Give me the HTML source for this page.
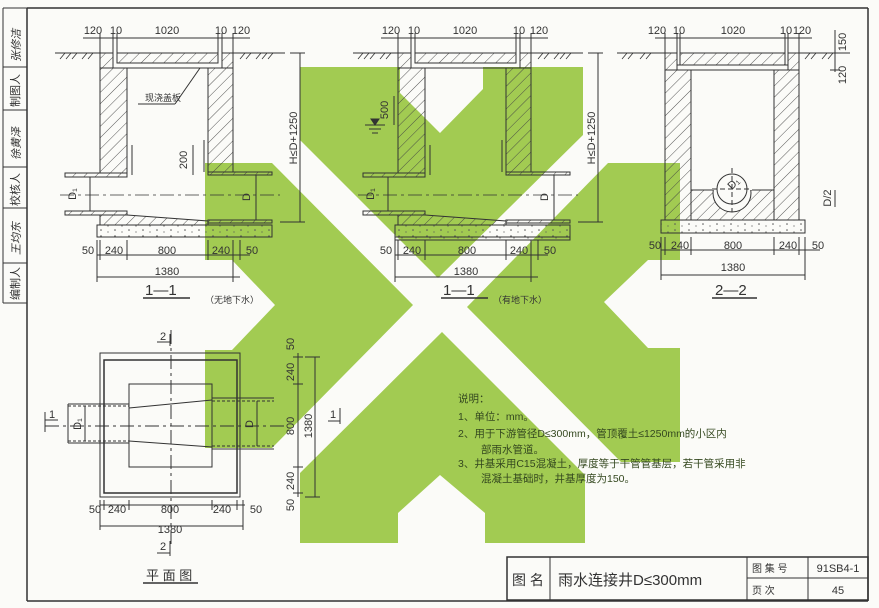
<!DOCTYPE html>
<html><head><meta charset="utf-8"><style>
html,body{margin:0;padding:0;background:#fbfbf8}
svg{display:block}
text{font-family:"Liberation Sans","Noto Sans CJK SC",sans-serif;fill:#333}
.d{font-size:11px;text-anchor:middle}
.cn{font-family:"Liberation Sans","Noto Sans CJK SC",sans-serif}
</style></head><body>
<svg width="879" height="608" viewBox="0 0 879 608" xmlns="http://www.w3.org/2000/svg">
<defs>
<pattern id="h" width="8" height="8" patternUnits="userSpaceOnUse" patternTransform="rotate(45)">
<line x1="0" y1="0" x2="0" y2="8" stroke="#444" stroke-width="0.9"/></pattern>
<pattern id="dots" width="14" height="6" patternUnits="userSpaceOnUse">
<circle cx="3" cy="2" r="0.8" fill="#555"/><circle cx="10" cy="4" r="0.6" fill="#555"/></pattern>
</defs>
<rect width="879" height="608" fill="#fbfbf8"/>
<!-- green watermark -->
<g fill="#a2cb52">
<polygon points="300,67 400,67 400,93 440,133 483,89 483,67 583,67 583,135 438,278 300,140"/>
<polygon points="205,163 272,163 413,305 272,448 205,448 205,350 232,350 275,305 232,260 205,260"/>
<polygon points="608,163 680,163 680,260 648,260 604,302 648,348 680,348 680,462 621,462 467,307"/>
<polygon points="442,332 585,475 585,543 485,543 485,513 440,475 398,513 398,543 300,543 300,473"/>
</g>
<g stroke="#333" fill="none" stroke-width="1">
<!-- frame -->
<line x1="27" y1="8" x2="868" y2="8" stroke-width="1.5"/>
<line x1="27" y1="8" x2="27" y2="601" stroke-width="1.5"/>
<line x1="868" y1="8" x2="868" y2="601" stroke-width="1.5"/>
<line x1="27" y1="601" x2="868" y2="601" stroke-width="1.5"/>
<line x1="3" y1="8" x2="3" y2="303"/>
<line x1="3" y1="8" x2="27" y2="8"/><line x1="3" y1="67" x2="27" y2="67"/><line x1="3" y1="110" x2="27" y2="110"/>
<line x1="3" y1="167" x2="27" y2="167"/><line x1="3" y1="208" x2="27" y2="208"/><line x1="3" y1="263" x2="27" y2="263"/><line x1="3" y1="303" x2="27" y2="303"/>
<!-- title block -->
<rect x="507" y="557" width="361" height="43" stroke-width="1.5"/>
<line x1="550" y1="557" x2="550" y2="600"/><line x1="747" y1="557" x2="747" y2="600"/>
<line x1="808" y1="557" x2="808" y2="600"/><line x1="747" y1="578" x2="868" y2="578"/>
</g>
<!-- left strip labels -->
<g font-size="11" class="cn">
<text transform="translate(19,107) rotate(-90)">制图人</text>
<text transform="translate(19,206) rotate(-90)">校核人</text>
<text transform="translate(19,300) rotate(-90)">编制人</text>
<text transform="translate(20,62) rotate(-90)" font-style="italic" fill="#555">张修洁</text>
<text transform="translate(20,160) rotate(-90)" font-style="italic" fill="#555">徐黄泽</text>
<text transform="translate(20,255) rotate(-90)" font-style="italic" fill="#555">王均东</text>
</g>

<!-- SECTION 1-1 template -->
<g id="s11" stroke="#333" fill="none" stroke-width="1">
<line x1="83" y1="38" x2="250" y2="38"/>
<line x1="100" y1="33" x2="100" y2="53"/><line x1="113" y1="33" x2="113" y2="53"/><line x1="117" y1="33" x2="117" y2="53"/>
<line x1="218" y1="33" x2="218" y2="53"/><line x1="222" y1="33" x2="222" y2="53"/><line x1="233" y1="33" x2="233" y2="53"/>
<line x1="55" y1="53" x2="100" y2="53"/><line x1="233" y1="53" x2="285" y2="53"/>
<path d="M60,59 l5,-6 M66,59 l5,-6 M72,59 l5,-6 M82,59 l5,-6 M88,59 l5,-6 M240,59 l5,-6 M246,59 l5,-6 M256,59 l5,-6 M262,59 l5,-6 M268,59 l5,-6" stroke-width="0.8"/>
<rect x="100" y="53" width="13" height="15" fill="url(#h)"/>
<rect x="117" y="53" width="101" height="10" fill="url(#h)"/>
<rect x="222" y="53" width="11" height="15" fill="url(#h)"/>
<line x1="113" y1="68" x2="222" y2="68"/>
<rect x="100" y="68" width="27" height="105" fill="url(#h)"/>
<rect x="208" y="68" width="25" height="104" fill="url(#h)"/>
<rect x="65" y="173" width="62" height="4" fill="url(#h)"/>
<rect x="65" y="211" width="62" height="4" fill="url(#h)"/>
<rect x="208" y="172" width="64" height="3" fill="url(#h)"/>
<rect x="208" y="220" width="64" height="3" fill="url(#h)"/>
<polygon points="100,215 127,215 208,221 208,225 100,225" fill="url(#h)"/>
<rect x="97" y="225" width="175" height="12" fill="url(#dots)"/>
<line x1="60" y1="195" x2="280" y2="195" stroke-dasharray="14,4,3,4" stroke-width="0.7"/>
<line x1="90" y1="177" x2="90" y2="211"/><line x1="256" y1="175" x2="256" y2="220"/>
<line x1="132" y1="145" x2="132" y2="175"/><line x1="204" y1="140" x2="204" y2="172"/>
<line x1="300" y1="53" x2="300" y2="222"/><line x1="290" y1="53" x2="305" y2="53"/><line x1="280" y1="222" x2="305" y2="222"/>
<line x1="97" y1="255" x2="250" y2="255"/>
<line x1="97" y1="240" x2="97" y2="282"/><line x1="100" y1="240" x2="100" y2="260"/><line x1="127" y1="240" x2="127" y2="260"/>
<line x1="208" y1="240" x2="208" y2="260"/><line x1="233" y1="240" x2="233" y2="282"/><line x1="240" y1="240" x2="240" y2="260"/>
<line x1="97" y1="277" x2="240" y2="277"/>
<line x1="143" y1="298" x2="190" y2="298" stroke-width="1.5"/>
</g>
<use href="#s11" x="298" y="0"/>
<g fill="none" stroke="#333">
<line x1="138" y1="104" x2="175" y2="104"/><line x1="175" y1="104" x2="200" y2="68"/>
<line x1="193" y1="145" x2="193" y2="175"/>
<line x1="394" y1="96" x2="394" y2="125"/>
<line x1="365" y1="125" x2="385" y2="125"/><line x1="369" y1="129" x2="381" y2="129"/><line x1="372" y1="133" x2="378" y2="133"/>
<polygon points="375,125 371,119 379,119" fill="#333"/>
<rect x="395" y="237" width="175" height="3" fill="url(#dots)"/>
</g>
<!-- Section 1-1 texts -->
<g class="d">
<text x="93" y="34">120</text><text x="116" y="34">10</text><text x="167" y="34">1020</text><text x="221" y="34">10</text><text x="241" y="34">120</text>
<text x="391" y="34">120</text><text x="414" y="34">10</text><text x="465" y="34">1020</text><text x="519" y="34">10</text><text x="539" y="34">120</text>
<text x="88" y="254">50</text><text x="114" y="254">240</text><text x="167" y="254">800</text><text x="221" y="254">240</text><text x="252" y="254">50</text>
<text x="167" y="275">1380</text>
<text x="386" y="254">50</text><text x="412" y="254">240</text><text x="467" y="254">800</text><text x="519" y="254">240</text><text x="550" y="254">50</text>
<text x="466" y="275">1380</text>
</g>
<text x="145" y="101" font-size="9">现浇盖板</text>
<text transform="translate(187,160) rotate(-90)" class="d">200</text>
<text transform="translate(388,110) rotate(-90)" class="d">500</text>
<text transform="translate(297,138) rotate(-90)" class="d" font-size="10">H≤D+1250</text>
<text transform="translate(595,138) rotate(-90)" class="d" font-size="10">H≤D+1250</text>
<text transform="translate(76,194) rotate(-90)" class="d" font-size="9">D₁</text>
<text transform="translate(374,194) rotate(-90)" class="d" font-size="9">D₁</text>
<text transform="translate(250,197) rotate(-90)" class="d" font-size="9">D</text>
<text transform="translate(548,197) rotate(-90)" class="d" font-size="9">D</text>
<text x="145" y="295" font-size="15">1—1</text><text x="205" y="303" font-size="9">（无地下水）</text>
<text x="443" y="295" font-size="15">1—1</text><text x="493" y="303" font-size="9">（有地下水）</text>

<!-- Section 2-2 -->
<g stroke="#333" fill="none">
<line x1="655" y1="38" x2="812" y2="38"/>
<line x1="665" y1="33" x2="665" y2="53"/><line x1="677" y1="33" x2="677" y2="53"/><line x1="680" y1="33" x2="680" y2="53"/>
<line x1="785" y1="33" x2="785" y2="53"/><line x1="788" y1="33" x2="788" y2="53"/><line x1="799" y1="33" x2="799" y2="53"/>
<line x1="617" y1="53" x2="665" y2="53"/><line x1="799" y1="53" x2="850" y2="53"/>
<path d="M622,59 l5,-6 M628,59 l5,-6 M640,59 l5,-6 M646,59 l5,-6 M805,59 l5,-6 M811,59 l5,-6 M822,59 l5,-6 M828,59 l5,-6" stroke-width="0.8"/>
<rect x="665" y="53" width="12" height="17" fill="url(#h)"/>
<rect x="680" y="53" width="105" height="12" fill="url(#h)"/>
<rect x="788" y="53" width="11" height="17" fill="url(#h)"/>
<line x1="677" y1="65" x2="788" y2="65"/><line x1="665" y1="70" x2="799" y2="70"/>
<rect x="665" y="70" width="26" height="150" fill="url(#h)"/>
<rect x="774" y="70" width="25" height="150" fill="url(#h)"/>
<rect x="691" y="190" width="83" height="30" fill="url(#h)"/>
<circle cx="732" cy="193" r="19" fill="#fbfbf8"/>
<rect x="712" y="172" width="40" height="18" fill="#fbfbf8" stroke="none"/>
<line x1="691" y1="190" x2="712" y2="190"/><line x1="752" y1="190" x2="774" y2="190"/>
<circle cx="732" cy="189" r="15"/>
<line x1="732" y1="168" x2="732" y2="212" stroke-dasharray="5,3"/><line x1="712" y1="189" x2="752" y2="189" stroke-dasharray="5,3"/>
<line x1="691" y1="160" x2="691" y2="190"/><line x1="774" y1="160" x2="774" y2="190"/>
<rect x="661" y="220" width="144" height="13" fill="url(#dots)"/>
<line x1="835" y1="30" x2="835" y2="72"/><line x1="830" y1="53" x2="840" y2="53"/><line x1="830" y1="70" x2="840" y2="70"/>
<line x1="835" y1="190" x2="835" y2="207"/>
<line x1="661" y1="250" x2="820" y2="250"/>
<line x1="661" y1="237" x2="661" y2="280"/><line x1="665" y1="237" x2="665" y2="255"/><line x1="691" y1="237" x2="691" y2="255"/>
<line x1="774" y1="237" x2="774" y2="255"/><line x1="799" y1="237" x2="799" y2="255"/><line x1="805" y1="237" x2="805" y2="280"/>
<line x1="661" y1="275" x2="805" y2="275"/>
<line x1="712" y1="298" x2="757" y2="298" stroke-width="1.5"/>
</g>
<g class="d">
<text x="657" y="34">120</text><text x="679" y="34">10</text><text x="733" y="34">1020</text><text x="786" y="34">10</text><text x="802" y="34">120</text>
<text x="655" y="249">50</text><text x="680" y="249">240</text><text x="733" y="249">800</text><text x="788" y="249">240</text><text x="818" y="249">50</text>
<text x="733" y="271">1380</text>
</g>
<text transform="translate(846,42) rotate(-90)" class="d">150</text>
<text transform="translate(846,75) rotate(-90)" class="d">120</text>
<text transform="translate(831,198) rotate(-90)" class="d" font-size="9">D/2</text>
<text transform="translate(736,186) rotate(-45)" class="d" font-size="9">D₁</text>
<text x="715" y="295" font-size="15">2—2</text>

<!-- Plan view -->
<g stroke="#333" fill="none">
<rect x="100" y="353" width="140" height="144"/>
<rect x="104" y="360" width="133" height="133" stroke-width="1.5"/>
<rect x="129" y="384" width="83" height="83"/>
<line x1="68" y1="404" x2="129" y2="404"/><line x1="68" y1="443" x2="129" y2="443"/>
<line x1="68" y1="406" x2="129" y2="406" stroke-dasharray="3,2"/><line x1="68" y1="441" x2="129" y2="441" stroke-dasharray="3,2"/>
<line x1="68" y1="404" x2="68" y2="443"/>
<line x1="129" y1="408" x2="212" y2="400"/><line x1="129" y1="441" x2="212" y2="447"/>
<line x1="212" y1="398" x2="274" y2="398"/><line x1="212" y1="449" x2="274" y2="449"/>
<line x1="212" y1="401" x2="274" y2="401" stroke-dasharray="3,2"/><line x1="212" y1="446" x2="274" y2="446" stroke-dasharray="3,2"/>
<line x1="45" y1="426" x2="285" y2="426" stroke-dasharray="14,4,3,4"/>
<line x1="171" y1="330" x2="171" y2="545" stroke-dasharray="14,4,3,4"/>
<line x1="85" y1="406" x2="85" y2="441"/><line x1="257" y1="401" x2="257" y2="446"/>
<line x1="100" y1="505" x2="245" y2="505"/>
<line x1="100" y1="500" x2="100" y2="530"/><line x1="104" y1="500" x2="104" y2="510"/><line x1="129" y1="500" x2="129" y2="510"/>
<line x1="212" y1="500" x2="212" y2="510"/><line x1="237" y1="500" x2="237" y2="510"/><line x1="243" y1="500" x2="243" y2="530"/>
<line x1="100" y1="526" x2="243" y2="526"/>
<line x1="298" y1="353" x2="298" y2="497"/>
<line x1="293" y1="357" x2="303" y2="357"/><line x1="293" y1="384" x2="303" y2="384"/><line x1="293" y1="467" x2="303" y2="467"/><line x1="293" y1="493" x2="303" y2="493"/>
<line x1="315" y1="357" x2="315" y2="497"/><line x1="305" y1="357" x2="320" y2="357"/><line x1="305" y1="497" x2="320" y2="497"/>
<line x1="157" y1="342" x2="170" y2="342"/><line x1="170" y1="334" x2="170" y2="346"/>
<line x1="157" y1="553" x2="170" y2="553"/><line x1="170" y1="541" x2="170" y2="556"/>
<line x1="45" y1="420" x2="58" y2="420"/><line x1="45" y1="412" x2="45" y2="432"/>
<line x1="328" y1="421" x2="340" y2="421"/><line x1="340" y1="408" x2="340" y2="424"/>
<line x1="143" y1="583" x2="198" y2="583" stroke-width="1.5"/>
</g>
<text x="163" y="340" class="d">2</text><text x="163" y="550" class="d">2</text>
<text x="52" y="418" class="d">1</text><text x="333" y="418" class="d">1</text>
<g class="d">
<text x="95" y="513">50</text><text x="117" y="513">240</text><text x="170" y="513">800</text><text x="222" y="513">240</text><text x="256" y="513">50</text>
<text x="170" y="533">1380</text>
</g>
<text transform="translate(294,344) rotate(-90)" class="d">50</text>
<text transform="translate(294,372) rotate(-90)" class="d">240</text>
<text transform="translate(294,426) rotate(-90)" class="d">800</text>
<text transform="translate(294,481) rotate(-90)" class="d">240</text>
<text transform="translate(294,505) rotate(-90)" class="d">50</text>
<text transform="translate(312,426) rotate(-90)" class="d">1380</text>
<text transform="translate(81,424) rotate(-90)" class="d" font-size="9">D₁</text>
<text transform="translate(253,424) rotate(-90)" class="d" font-size="9">D</text>
<text x="146" y="580" font-size="13">平 面 图</text>

<!-- notes -->
<g font-size="10.5" fill="#2f4a1a">
<text x="458" y="402" style="fill:#34481f">说明：</text>
<text x="458" y="420" style="fill:#34481f">1、单位：mm。</text>
<text x="458" y="437" style="fill:#34481f">2、用于下游管径D≤300mm，管顶覆土≤1250mm的小区内</text>
<text x="481" y="453" style="fill:#34481f">部雨水管道。</text>
<text x="458" y="467" style="fill:#34481f">3、井基采用C15混凝土，厚度等于干管管基层，若干管采用非</text>
<text x="481" y="482" style="fill:#34481f">混凝土基础时，井基厚度为150。</text>
</g>
<!-- title texts -->
<text x="512" y="585" font-size="14">图  名</text>
<text x="558" y="585" font-size="15">雨水连接井D≤300mm</text>
<text x="752" y="572" font-size="10">图 集 号</text>
<text x="752" y="594" font-size="10">页    次</text>
<text x="838" y="572" font-size="11" text-anchor="middle">91SB4-1</text>
<text x="838" y="594" font-size="11" text-anchor="middle">45</text>
</svg>
</body></html>
